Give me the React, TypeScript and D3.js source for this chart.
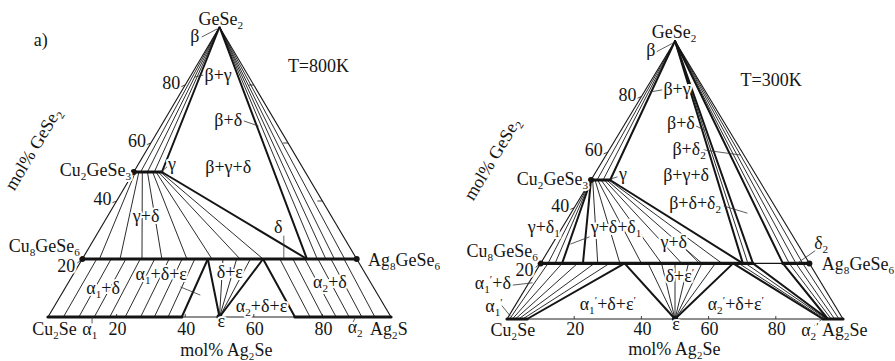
import React from "react";
import * as d3 from "d3";

// Composition coordinates: [mole fraction Ag2Se, mole fraction GeSe2]
type Pt = [number, number];
type Seg = [number, number, number, number];
type Label = { text: string; at: Pt; anchor?: "start" | "middle" | "end"; rotate?: number };

const EDGE_TICKS = [20, 40, 60, 80];

// ---------------- T = 800 K ----------------
const hotSinglePhase: Seg[] = [
  [0, 0.5, 0.082, 0.5], // γ
  [0, 0.2, 0.8, 0.2], // δ (continuous Cu8GeSe6–Ag8GeSe6)
  [0, 0, 0.39, 0], // α1
  [0.72, 0, 1, 0], // α2
];
const hotThinSection: Seg[] = [];
const hotBoundaries: Seg[] = [
  [0, 1, 0.082, 0.5],
  [0, 1, 0.655, 0.2],
  [0.082, 0.5, 0.655, 0.2],
  [0.39, 0, 0.366, 0.2],
  [0.366, 0.2, 0.5, 0],
  [0.5, 0, 0.527, 0.2],
  [0.527, 0.2, 0.72, 0],
];
const hotTieBetaGamma: Seg[] = [
  [0, 1, 0.02, 0.5],
  [0, 1, 0.04, 0.5],
  [0, 1, 0.06, 0.5],
];
const hotTieBetaDelta: Seg[] = [
  [0, 1, 0.685, 0.2],
  [0, 1, 0.71, 0.2],
  [0, 1, 0.735, 0.2],
  [0, 1, 0.765, 0.2],
];
const hotTieGammaDelta: Seg[] = [
  [0.005, 0.5, 0.05, 0.2],
  [0.015, 0.5, 0.11, 0.2],
  [0.025, 0.5, 0.174, 0.2],
  [0.04, 0.5, 0.232, 0.2],
  [0.055, 0.5, 0.305, 0.2],
  [0.065, 0.5, 0.378, 0.2],
  [0.072, 0.5, 0.46, 0.2],
  [0.078, 0.5, 0.527, 0.2],
];
const hotTieAlpha1Delta: Seg[] = [
  [0.045, 0, 0.042, 0.2],
  [0.09, 0, 0.084, 0.2],
  [0.135, 0, 0.127, 0.2],
  [0.18, 0, 0.169, 0.2],
  [0.225, 0, 0.211, 0.2],
  [0.27, 0, 0.253, 0.2],
  [0.31, 0, 0.291, 0.2],
  [0.35, 0, 0.328, 0.2],
];
const hotTieDeltaEps: Seg[] = [
  [0.5, 0, 0.41, 0.2],
  [0.5, 0, 0.45, 0.2],
  [0.5, 0, 0.49, 0.2],
];
const hotTieAlpha2Delta: Seg[] = [
  [0.576, 0.2, 0.764, 0],
  [0.614, 0.2, 0.802, 0],
  [0.649, 0.2, 0.84, 0],
  [0.687, 0.2, 0.878, 0],
  [0.725, 0.2, 0.915, 0],
  [0.763, 0.2, 0.953, 0],
];
const hotDots: Pt[] = [
  [0, 0.5],
  [0, 0.2],
  [0.8, 0.2],
  [0.5, 0],
];
const hotLeaders: Seg[] = [
  [-0.034, 0.966, -0.004, 0.993],
  [0.035, 0.834, 0.015, 0.828],
  [0.233, 0.676, 0.283, 0.659],
  [0.081, 0.503, 0.088, 0.517],
  [0.548, 0.279, 0.586, 0.203],
  [0.336, 0.103, 0.405, 0.076],
  [0.139, -0.021, 0.13, -0.003],
  [0.898, -0.017, 0.897, -0.003],
];
const hotLabels: Label[] = [
  { text: "GeSe_2", at: [0, 1.007] },
  { text: "a)", at: [-0.488, 0.934] },
  { text: "β", at: [-0.046, 0.948] },
  { text: "β+γ", at: [0.089, 0.814] },
  { text: "β+δ", at: [0.196, 0.659] },
  { text: "Cu_2GeSe_3", at: [-0.001, 0.486], anchor: "end" },
  { text: "γ", at: [0.108, 0.507] },
  { text: "β+γ+δ", at: [0.277, 0.497] },
  { text: "T=800K", at: [0.366, 0.845] },
  { text: "γ+δ", at: [0.122, 0.328] },
  { text: "δ", at: [0.526, 0.29] },
  { text: "Cu_8GeSe_6", at: [-0.019, 0.224], anchor: "end" },
  { text: "Ag_8GeSe_6", at: [0.845, 0.176], anchor: "start" },
  { text: "α_1+δ", at: [0.121, 0.079] },
  { text: "α_1+δ+ε", at: [0.266, 0.128] },
  { text: "δ+ε", at: [0.463, 0.134] },
  { text: "α_2+δ+ε", at: [0.614, 0.017] },
  { text: "α_2+δ", at: [0.772, 0.1] },
  { text: "ε", at: [0.522, -0.034] },
  { text: "Cu_2Se", at: [0.05, -0.062] },
  { text: "α_1", at: [0.153, -0.062] },
  { text: "α_2", at: [0.923, -0.055] },
  { text: "Ag_2S", at: [0.97, -0.062], anchor: "start" },
  { text: "mol% Ag_2Se", at: [0.587, -0.134] },
  { text: "mol% GeSe_2", at: [-0.314, 0.569], rotate: -59 },
];

// ---------------- T = 300 K ----------------
const coldSinglePhase: Seg[] = [
  [0, 0.5, 0.057, 0.5], // γ
  [0, 0.2, 0.632, 0.2], // δ1, δ
  [0.721, 0.2, 0.8, 0.2], // δ2
  [0, 0, 0.06, 0], // α1'
  [0.94, 0, 1, 0], // α2'
];
const coldThinSection: Seg[] = [[0.632, 0.2, 0.721, 0.2]];
const coldBoundaries: Seg[] = [
  [0, 1, 0.057, 0.5],
  [0, 1, 0.602, 0.2],
  [0, 1, 0.632, 0.2],
  [0, 1, 0.721, 0.2],
  [0.057, 0.5, 0.602, 0.2],
  [0, 0.5, 0.064, 0.2],
  [0, 0.5, 0.126, 0.2],
  [0.06, 0, 0.25, 0.2],
  [0.25, 0.2, 0.5, 0],
  [0.5, 0, 0.573, 0.2],
  [0.573, 0.2, 0.94, 0],
  [0.632, 0.2, 0.955, 0],
  [0.721, 0.2, 0.955, 0],
];
const coldTieBetaGamma: Seg[] = [
  [0, 1, 0.018, 0.5],
  [0, 1, 0.036, 0.5],
];
const coldTieBetaDelta: Seg[] = [[0, 1, 0.617, 0.2]];
const coldTieBetaDelta2: Seg[] = [
  [0, 1, 0.74, 0.2],
  [0, 1, 0.76, 0.2],
  [0, 1, 0.78, 0.2],
];
const coldTieGammaDelta1: Seg[] = [
  [0, 0.5, 0.022, 0.2],
  [0, 0.5, 0.043, 0.2],
];
const coldTieGammaDelta: Seg[] = [
  [0.005, 0.5, 0.17, 0.2],
  [0.012, 0.5, 0.236, 0.2],
  [0.02, 0.5, 0.3, 0.2],
  [0.03, 0.5, 0.36, 0.2],
  [0.04, 0.5, 0.42, 0.2],
  [0.047, 0.5, 0.48, 0.2],
  [0.053, 0.5, 0.54, 0.2],
];
const coldTieAlpha1Delta: Seg[] = [
  [0.008, 0, 0.022, 0.2],
  [0.016, 0, 0.064, 0.2],
  [0.025, 0, 0.11, 0.2],
  [0.035, 0, 0.16, 0.2],
  [0.047, 0, 0.205, 0.2],
];
const coldTieDeltaEps: Seg[] = [
  [0.5, 0, 0.32, 0.2],
  [0.5, 0, 0.36, 0.2],
  [0.5, 0, 0.4, 0.2],
  [0.5, 0, 0.44, 0.2],
  [0.5, 0, 0.48, 0.2],
  [0.5, 0, 0.52, 0.2],
];
const coldTieAlpha2Delta: Seg[] = [
  [0.59, 0.2, 0.945, 0],
  [0.61, 0.2, 0.95, 0],
  [0.74, 0.2, 0.965, 0],
  [0.76, 0.2, 0.975, 0],
  [0.78, 0.2, 0.988, 0],
];
const coldDots: Pt[] = [
  [0, 0.5],
  [0, 0.2],
  [0.8, 0.2],
  [0.5, 0],
];
const coldLeaders: Seg[] = [
  [-0.037, 0.96, -0.002, 0.993],
  [0.049, 0.824, 0.018, 0.817],
  [0.216, 0.694, 0.247, 0.68],
  [0.282, 0.608, 0.4, 0.59],
  [0.058, 0.504, 0.072, 0.511],
  [0.443, 0.406, 0.524, 0.381],
  [0.097, 0.295, 0.055, 0.27],
  [0.409, 0.248, 0.466, 0.205],
  [-0.043, 0.122, 0.01, 0.13],
  [-0.038, 0.047, 0.004, 0.011],
  [0.794, 0.245, 0.763, 0.2],
  [0.927, -0.022, 0.938, 0],
];
const coldLabels: Label[] = [
  { text: "GeSe_2", at: [-0.008, 1.011] },
  { text: "β", at: [-0.045, 0.946] },
  { text: "β+γ", at: [0.103, 0.806] },
  { text: "β+δ", at: [0.176, 0.683] },
  { text: "β+δ_2", at: [0.247, 0.59] },
  { text: "T=300K", at: [0.367, 0.838] },
  { text: "Cu_2GeSe_3", at: [0, 0.482], anchor: "end" },
  { text: "γ", at: [0.095, 0.5] },
  { text: "β+γ+δ", at: [0.285, 0.496] },
  { text: "β+δ+δ_2", at: [0.362, 0.396] },
  { text: "γ+δ_1", at: [-0.045, 0.309] },
  { text: "γ+δ+δ_1", at: [0.17, 0.309] },
  { text: "γ+δ", at: [0.369, 0.255] },
  { text: "Cu_8GeSe_6", at: [-0.02, 0.223], anchor: "end" },
  { text: "α_1^′+δ", at: [-0.096, 0.108] },
  { text: "α_1^′", at: [-0.051, 0.025] },
  { text: "α_1^′+δ+ε^′", at: [0.284, 0.032] },
  { text: "δ+ε^′", at: [0.448, 0.133] },
  { text: "α_2^′+δ+ε^′", at: [0.665, 0.032] },
  { text: "δ_2", at: [0.809, 0.252] },
  { text: "Ag_8GeSe_6", at: [0.849, 0.176], anchor: "start" },
  { text: "Cu_2Se", at: [0.048, -0.061] },
  { text: "ε", at: [0.523, -0.04] },
  { text: "α_2^′", at: [0.932, -0.061] },
  { text: "Ag_2Se", at: [0.968, -0.061], anchor: "start" },
  { text: "mol% Ag_2Se", at: [0.563, -0.1295] },
  { text: "mol% GeSe_2", at: [-0.312, 0.565], rotate: -59 },
];

const FONT = "Liberation Serif, Tinos, DejaVu Serif, serif";
const INK = "#141414";

type Frame = { x0: number; x1: number; yBase: number; yApex: number };
const HOT_FRAME: Frame = { x0: 48, x1: 391, yBase: 317, yApex: 27 };
const COLD_FRAME: Frame = { x0: 507, x1: 843, yBase: 319, yApex: 41 };

// Text with "_x" for a subscript character and "^x" for a raised one.
function RichText(props: {
  s: string;
  x: number;
  y: number;
  anchor?: string;
  rotate?: number;
  size?: number;
  halo?: boolean;
}) {
  const { s, x, y, anchor = "middle", rotate, size = 18, halo = true } = props;
  const runs: { t: string; k: "n" | "sub" | "sup" }[] = [];
  for (let i = 0; i < s.length; i++) {
    const c = s[i];
    if (c === "_" || c === "^") {
      runs.push({ t: s[i + 1], k: c === "_" ? "sub" : "sup" });
      i++;
    } else if (runs.length && runs[runs.length - 1].k === "n") {
      runs[runs.length - 1].t += c;
    } else {
      runs.push({ t: c, k: "n" });
    }
  }
  let cur = 0;
  return (
    <text
      x={x}
      y={y}
      textAnchor={anchor}
      style={{ fontFamily: FONT }}
      fontSize={size}
      fill={INK}
      stroke={halo ? "#fff" : "none"}
      strokeWidth={halo ? 4 : 0}
      strokeLinejoin="round"
      paintOrder="stroke"
      transform={rotate ? `rotate(${rotate},${x},${y})` : undefined}
    >
      {runs.map((r, i) => {
        const target = r.k === "sub" ? 4 : r.k === "sup" ? -6 : 0;
        const dy = target - cur;
        cur = target;
        return (
          <tspan key={i} dy={dy} fontSize={r.k === "n" ? size : size * 0.62}>
            {r.t}
          </tspan>
        );
      })}
    </text>
  );
}

type PanelProps = {
  frame: Frame;
  singlePhase: Seg[];
  thinSection: Seg[];
  boundaries: Seg[];
  ties: Seg[];
  leaders: Seg[];
  dots: Pt[];
  labels: Label[];
  rightEdgeTicks: boolean;
  baseLabelGap: number;
};

function TernaryPanel(p: PanelProps) {
  const sx = d3.scaleLinear().domain([0, 1]).range([p.frame.x0, p.frame.x1]);
  const sy = d3.scaleLinear().domain([0, 1]).range([p.frame.yBase, p.frame.yApex]);
  const pt = (a: number, g: number): [number, number] => [sx(a + g / 2), sy(g)];
  const line = (s: Seg, key: string, width: number, color = INK) => {
    const [x1, y1] = pt(s[0], s[1]);
    const [x2, y2] = pt(s[2], s[3]);
    return (
      <line key={key} x1={x1} y1={y1} x2={x2} y2={y2} stroke={color} strokeWidth={width} strokeLinecap="round" />
    );
  };
  const A = pt(0, 0);
  const B = pt(1, 0);
  const C = pt(0, 1);

  return (
    <g>
      {/* bottom edge Cu2Se – Ag2Se */}
      <line x1={A[0]} y1={A[1]} x2={B[0]} y2={B[1]} stroke="#6a6a6a" strokeWidth={1.6} />
      {/* side edges */}
      <line x1={A[0]} y1={A[1]} x2={C[0]} y2={C[1]} stroke={INK} strokeWidth={1.1} />
      <line x1={B[0]} y1={B[1]} x2={C[0]} y2={C[1]} stroke={INK} strokeWidth={1.1} />

      {p.ties.map((s, i) => line(s, `t${i}`, 0.9))}
      {p.thinSection.map((s, i) => line(s, `n${i}`, 1.3))}
      {p.boundaries.map((s, i) => line(s, `b${i}`, 2))}
      {p.singlePhase.map((s, i) => line(s, `h${i}`, 3.2))}
      {p.leaders.map((s, i) => line(s, `l${i}`, 0.8, "#333"))}

      {/* edge ticks */}
      {EDGE_TICKS.map((t) => {
        const [lx, ly] = pt(0, t / 100);
        const [bx, by] = pt(t / 100, 0);
        const [rx, ry] = pt(1 - t / 100, t / 100);
        const low = t === 20;
        return (
          <g key={`k${t}`}>
            <line x1={lx - 5} y1={ly + (low ? 4 : 2)} x2={lx} y2={ly} stroke={INK} strokeWidth={0.8} />
            <line x1={bx} y1={by} x2={bx} y2={by - 3} stroke={INK} strokeWidth={0.8} />
            {p.rightEdgeTicks && <line x1={rx} y1={ry} x2={rx - 5} y2={ry} stroke={INK} strokeWidth={0.8} />}
            <RichText s={String(t)} x={lx - (low ? 16 : 14)} y={ly + (low ? 13 : 4)} />
            <RichText s={String(t)} x={bx + 1} y={by + p.baseLabelGap} />
          </g>
        );
      })}

      {p.dots.map((d, i) => {
        const [x, y] = pt(d[0], d[1]);
        return <circle key={`d${i}`} cx={x} cy={y} r={3} fill={INK} />;
      })}

      {p.labels.map((l, i) => {
        const [x, y] = pt(l.at[0], l.at[1]);
        return <RichText key={`x${i}`} s={l.text} x={x} y={y} anchor={l.anchor} rotate={l.rotate} />;
      })}
    </g>
  );
}

export default function App() {
  return (
    <svg
      width={895}
      height={361}
      viewBox="0 0 895 361"
      style={{ position: "absolute", left: 0, top: 0, display: "block", background: "#fff" }}
    >
      <rect width={895} height={361} fill="#fff" />
      <TernaryPanel
        frame={HOT_FRAME}
        singlePhase={hotSinglePhase}
        thinSection={hotThinSection}
        boundaries={hotBoundaries}
        ties={[
          ...hotTieBetaGamma,
          ...hotTieBetaDelta,
          ...hotTieGammaDelta,
          ...hotTieAlpha1Delta,
          ...hotTieDeltaEps,
          ...hotTieAlpha2Delta,
        ]}
        leaders={hotLeaders}
        dots={hotDots}
        labels={hotLabels}
        rightEdgeTicks={true}
        baseLabelGap={18}
      />
      <TernaryPanel
        frame={COLD_FRAME}
        singlePhase={coldSinglePhase}
        thinSection={coldThinSection}
        boundaries={coldBoundaries}
        ties={[
          ...coldTieBetaGamma,
          ...coldTieBetaDelta,
          ...coldTieBetaDelta2,
          ...coldTieGammaDelta1,
          ...coldTieGammaDelta,
          ...coldTieAlpha1Delta,
          ...coldTieDeltaEps,
          ...coldTieAlpha2Delta,
        ]}
        leaders={coldLeaders}
        dots={coldDots}
        labels={coldLabels}
        rightEdgeTicks={false}
        baseLabelGap={16}
      />
    </svg>
  );
}
